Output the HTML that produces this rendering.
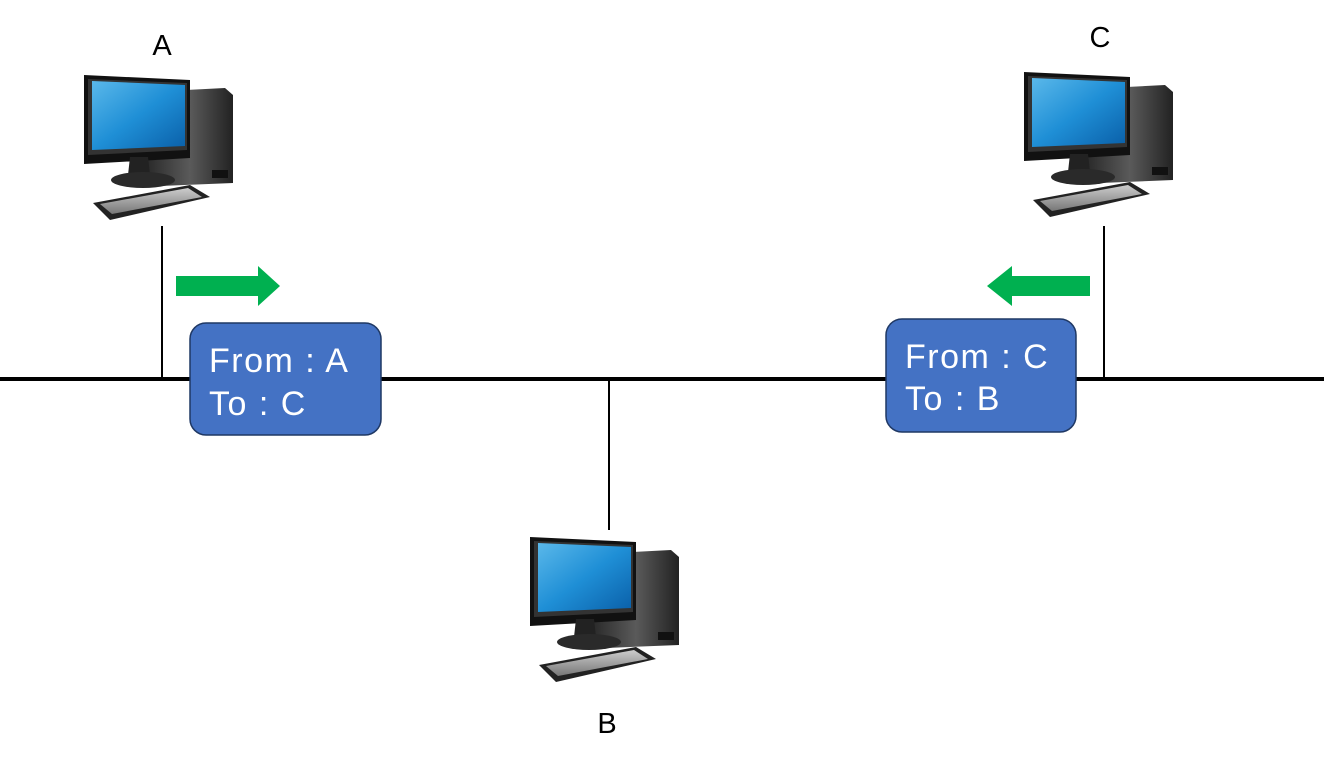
<!DOCTYPE html>
<html><head><meta charset="utf-8"><style>body{margin:0;background:#fff}svg{display:block}</style></head><body>
<svg width="1324" height="768" viewBox="0 0 1324 768" xmlns="http://www.w3.org/2000/svg" font-family="Liberation Sans, DejaVu Sans, sans-serif">
<defs>
<linearGradient id="scr" x1="0" y1="0" x2="1" y2="1"><stop offset="0" stop-color="#5ab8ea"/><stop offset="0.5" stop-color="#1f8fd6"/><stop offset="1" stop-color="#0a5fa8"/></linearGradient>
<linearGradient id="tw" x1="0" y1="0" x2="1" y2="0"><stop offset="0" stop-color="#2a2a2a"/><stop offset="0.5" stop-color="#5a5a5a"/><stop offset="1" stop-color="#222"/></linearGradient>
<linearGradient id="kb" x1="0" y1="0" x2="0" y2="1"><stop offset="0" stop-color="#ccc"/><stop offset="1" stop-color="#777"/></linearGradient>
<g id="pc">
<path d="M147 92 L225 88 L233 95 L233 183 L160 186 L147 180 Z" fill="url(#tw)"/>
<rect x="212" y="170" width="16" height="8" fill="#111"/>
<path d="M84 75 L190 80 L190 158 L84 164 Z" fill="#111"/>
<path d="M88 79 L187 83 L187 150 L88 155 Z" fill="#333"/>
<path d="M92 81 L185 85 L185 146 L92 150 Z" fill="url(#scr)"/>
<path d="M130 157 L148 157 L150 175 L128 175 Z" fill="#222"/>
<ellipse cx="143" cy="180" rx="32" ry="8" fill="#2a2a2a"/>
<path d="M93 203 L190 185 L210 197 L110 220 Z" fill="#222"/>
<path d="M100 204 L188 188 L202 197 L112 214 Z" fill="url(#kb)"/>
</g>
</defs>
<line x1="0" y1="379" x2="1324" y2="379" stroke="#000" stroke-width="4"/>
<line x1="162" y1="226" x2="162" y2="379" stroke="#000" stroke-width="2"/>
<line x1="1104" y1="226" x2="1104" y2="379" stroke="#000" stroke-width="2"/>
<line x1="609" y1="379" x2="609" y2="530" stroke="#000" stroke-width="2"/>
<use href="#pc"/>
<use href="#pc" transform="translate(940,-3)"/>
<use href="#pc" transform="translate(446,462)"/>
<g font-size="29" fill="#000" text-anchor="middle">
<text x="162" y="55">A</text>
<text x="1100" y="47">C</text>
<text x="607" y="733">B</text>
</g>
<path d="M176 276 L258 276 L258 266 L280 286 L258 306 L258 296 L176 296 Z" fill="#00B050"/>
<path d="M1090 276 L1012 276 L1012 266 L987 286 L1012 306 L1012 296 L1090 296 Z" fill="#00B050"/>
<rect x="190" y="323" width="191" height="112" rx="16" fill="#4472C4" stroke="#1F3864" stroke-width="1.5"/>
<rect x="886" y="319" width="190" height="113" rx="16" fill="#4472C4" stroke="#1F3864" stroke-width="1.5"/>
<g font-size="34" fill="#fff" letter-spacing="1.5">
<text x="209" y="372">From : A</text>
<text x="209" y="415">To : C</text>
<text x="905" y="368">From : C</text>
<text x="905" y="410">To : B</text>
</g>
</svg>
</body></html>
